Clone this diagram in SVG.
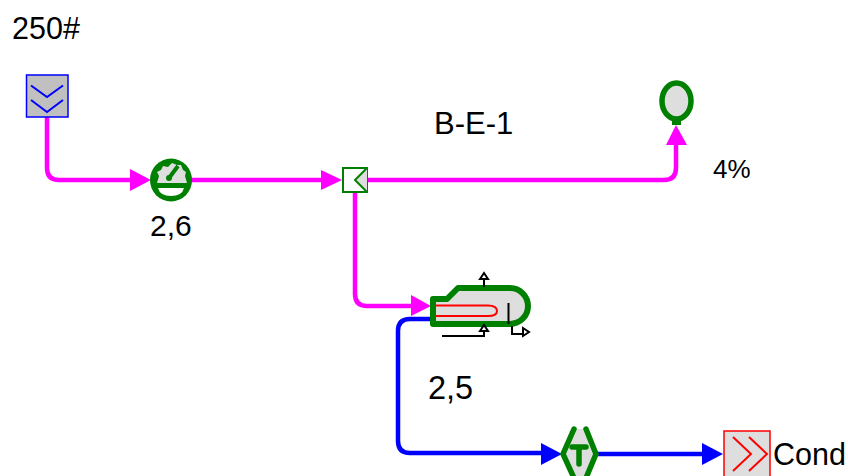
<svg xmlns="http://www.w3.org/2000/svg" width="848" height="476" viewBox="0 0 848 476">
<style>
text{font-family:"Liberation Sans",Arial,sans-serif;font-size:30px;fill:#000}
.mg{fill:none;stroke:#f0f;stroke-width:4.5}
.bl{fill:none;stroke:#00f;stroke-width:4.5}
.g{stroke:#008000;fill:#dedede}
.k{fill:none;stroke:#000;stroke-width:2}
</style>
<g id="connectors">
<path class="mg" d="M47 117V168Q47 180 59 180H132"/>
<polygon fill="#f0f" points="130,169 151,180 130,191"/>
<path class="mg" d="M190 180H322"/>
<polygon fill="#f0f" points="321,170 342,180 321,190"/>
<path class="mg" d="M367 180H664Q676 180 676 168V145"/>
<polygon fill="#f0f" points="666,145 676,125 687,145"/>
<path class="mg" d="M355 193V294Q355 306 367 306H412"/>
<polygon fill="#f0f" points="411,295 431,306 411,316"/>
<path class="bl" d="M431 319H410Q398 319 398 331V441Q398 453 410 453H543"/>
<polygon fill="#00f" points="541,443 562,454 541,465"/>
<path class="bl" d="M596 454H704"/>
<polygon fill="#00f" points="702,443 723,454 702,465"/>
</g>
<g id="source">
<rect x="26.500" y="75" width="41.500" height="42" fill="#c0c0c0" stroke="#00f" stroke-width="1.500"/>
<path d="M31 85.500 47 97 63 85.500M31 100 47 112 63 100" fill="none" stroke="#00f" stroke-width="2"/>
</g>
<g id="gauge">
<ellipse cx="171" cy="180" rx="21" ry="21.500" fill="#008000"/>
<path d="M157 183 159 176 157 172 161 170 163 166 168 167 172 163 177 165 181 165 183 170 186 172 185 176 187 183Z" fill="#dedede"/>
<path d="M158 188H184Q182 196 171 196Q160 196 158 188Z" fill="#fff"/>
<path d="M169 178 178 166" stroke="#008000" stroke-width="4" fill="none"/>
<circle cx="169" cy="178" r="3" fill="#008000"/>
</g>
<g id="splitter">
<rect x="343" y="168" width="24" height="24" fill="#fff" stroke="#008000" stroke-width="2"/>
<path d="M367 168 355 180 367 192" fill="#dedede" stroke="#008000" stroke-width="2"/>
</g>
<g id="balloon">
<ellipse class="g" cx="676.500" cy="101" rx="14.500" ry="18" stroke-width="5.500"/>
<rect x="672" y="117" width="9" height="8" fill="#008000"/>
</g>
<g id="boiler">
<path class="g" stroke-width="6" stroke-linejoin="round" d="M433 324V299H447L458 288H510A18 18 0 0 1 510 324Z"/>
<path d="M435 305.500H488Q497 305.500 497 311Q497 316 488 316H435" fill="none" stroke="#f00" stroke-width="2"/>
<path class="k" d="M484 287V276M508.500 303V324M442 336H484V327M512 326V334H522"/>
<polygon points="480,279 484,273 488,279" fill="#fff" stroke="#000" stroke-width="2"/>
<polygon points="480,331 484,325 488,331" fill="#fff" stroke="#000" stroke-width="2"/>
<polygon points="523,328 529,332 523,336" fill="#fff" stroke="#000" stroke-width="2"/>
</g>
<g id="trap">
<path d="M574 429 563 454 574 478H586L596 454 586 429Z" fill="#dedede"/>
<path d="M574 429 563 454 574 478M586 429 596 454 586 478" fill="none" stroke="#008000" stroke-width="5.500" stroke-linecap="round"/>
<path d="M572 447H586M579 447V464" fill="none" stroke="#008000" stroke-width="5.500" stroke-linecap="round"/>
</g>
<g id="sink">
<rect x="724" y="431" width="46" height="50" fill="#dedede" stroke="#f00" stroke-width="1.500"/>
<path d="M733 437 751 454 733 471M749 437 767 454 749 471" fill="none" stroke="#f00" stroke-width="2"/>
</g>
<g id="labels">
<text x="12" y="39" style="font-size:30.500px">250#</text>
<text x="434" y="134" style="font-size:31px">B-E-1</text>
<text x="713" y="178" style="font-size:26px">4%</text>
<text x="150" y="236">2,6</text>
<text x="428" y="399" style="font-size:32.500px">2,5</text>
<text x="773" y="465" style="font-size:30.500px">Cond</text>
</g>
</svg>
